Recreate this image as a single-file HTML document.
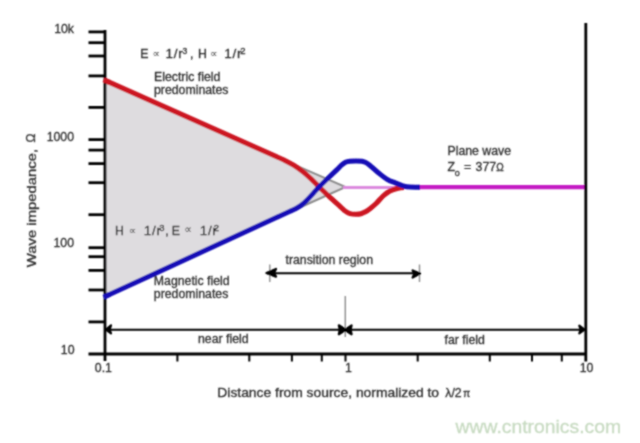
<!DOCTYPE html>
<html><head><meta charset="utf-8">
<style>
html,body{margin:0;padding:0;background:#fff;}
body{width:640px;height:443px;overflow:hidden;}
svg{display:block;}
text{font-family:"Liberation Sans",Arial,sans-serif;font-size:12.3px;fill:#2e2e2e;stroke:#2e2e2e;stroke-width:0.3px;}
.sym{font-family:"DejaVu Sans",sans-serif;font-size:7px;fill:#444;stroke:none;}
</style></head><body>
<svg width="640" height="443" viewBox="0 0 640 443">
<defs><filter id="soft" x="-1%" y="-1%" width="102%" height="102%"><feConvolveMatrix order="3" kernelMatrix="1 2 1 2 6 2 1 2 1" divisor="18" edgeMode="duplicate" preserveAlpha="false"/></filter></defs>
<rect width="640" height="443" fill="#fff"/>
<g filter="url(#soft)">
<!-- grey fill triangle -->
<polygon points="105,80.4 345.5,187 105,296.6" fill="#dedcdf"/>
<!-- grey asymptote extensions -->
<polyline points="290,162.9 345.5,187 292,211" fill="none" stroke="#8a8a8a" stroke-width="2" stroke-miterlimit="10"/>
<!-- pink thin line -->
<line x1="343" y1="187.5" x2="420" y2="187.5" stroke="#dc8ade" stroke-width="2.8"/>
<!-- magenta thick -->
<line x1="419" y1="187.2" x2="585" y2="187.2" stroke="#c41ac4" stroke-width="4.2"/>
<!-- red curve -->
<path d="M105,80.4 L284,160.0 C287.3,161.7 290.8,163.4 294.0,165.4 C297.2,167.4 300.3,169.7 303.0,171.8 C305.7,173.9 308.0,176.0 310.3,178.1 C312.6,180.2 314.7,182.6 316.6,184.4 C318.5,186.2 319.2,187.0 321.5,189.2 C323.8,191.4 327.1,194.8 330.3,197.7 C333.5,200.6 338.0,204.5 340.5,206.8 C343.0,209.1 343.9,210.2 345.5,211.3 C347.1,212.4 348.2,213.1 350.0,213.6 C351.8,214.1 354.2,214.2 356.0,214.2 C357.8,214.2 359.4,214.1 361.0,213.7 C362.6,213.3 364.0,212.6 365.5,211.8 C367.0,211.0 368.2,210.1 370.0,208.7 C371.8,207.3 373.9,205.6 376.1,203.5 C378.3,201.4 380.8,198.1 383.1,196.0 C385.4,193.9 387.4,192.3 389.9,191.0 C392.4,189.7 395.6,188.8 398.0,188.2 C400.4,187.6 402.0,187.5 404.0,187.4" fill="none" stroke="#cc1420" stroke-width="5" stroke-linejoin="round"/>
<!-- blue curve -->
<path d="M105,296.6 L290,211.3 C292.7,210.1 294.1,209.5 296.0,208.5 C297.9,207.5 299.3,206.8 301.2,205.3 C303.1,203.8 305.5,201.5 307.6,199.4 C309.7,197.3 311.8,194.9 313.9,192.6 C316.0,190.3 317.5,188.6 320.2,185.8 C322.9,183.0 327.5,178.7 330.3,176.0 C333.1,173.3 335.1,171.4 337.0,169.6 C338.9,167.8 340.1,166.4 341.5,165.2 C342.9,164.0 344.1,163.0 345.5,162.3 C346.9,161.7 348.2,161.5 350.0,161.3 C351.8,161.1 354.0,161.1 356.0,161.1 C358.0,161.1 360.3,161.1 362.0,161.3 C363.7,161.6 364.7,161.9 366.0,162.6 C367.3,163.3 368.1,163.9 370.0,165.5 C371.9,167.1 374.8,169.9 377.7,172.2 C380.6,174.5 384.3,177.6 387.2,179.4 C390.1,181.2 392.7,181.8 395.3,182.9 C397.9,184.0 400.6,185.1 403.0,185.8 C405.4,186.5 407.2,186.9 410.0,187.1 C412.8,187.3 416.7,187.2 420.0,187.2" fill="none" stroke="#1511b6" stroke-width="5" stroke-linejoin="round"/>
<!-- axes -->
<g stroke="#000" fill="none">
<line x1="105" y1="30" x2="105" y2="361" stroke-width="2.8"/>
<line x1="585.8" y1="23" x2="585.8" y2="361.5" stroke-width="2.8"/>
<line x1="88.5" y1="354" x2="587" y2="354" stroke-width="3"/>
<g stroke-width="2.8">
<line x1="88.5" y1="31.9" x2="106" y2="31.9"/>
<line x1="88.5" y1="42.7" x2="105" y2="42.7"/>
<line x1="88.5" y1="56.0" x2="105" y2="56.0"/>
<line x1="88.5" y1="75.9" x2="105" y2="75.9"/>
<line x1="88.5" y1="107.4" x2="105" y2="107.4"/>
<line x1="88.5" y1="139.6" x2="105" y2="139.6"/>
<line x1="88.5" y1="150.1" x2="105" y2="150.1"/>
<line x1="88.5" y1="163.6" x2="105" y2="163.6"/>
<line x1="88.5" y1="182.7" x2="105" y2="182.7"/>
<line x1="88.5" y1="214.7" x2="105" y2="214.7"/>
<line x1="88.5" y1="247.7" x2="105" y2="247.7"/>
<line x1="88.5" y1="256.7" x2="105" y2="256.7"/>
<line x1="88.5" y1="270.4" x2="105" y2="270.4"/>
<line x1="88.5" y1="290.0" x2="105" y2="290.0"/>
<line x1="88.5" y1="321.9" x2="105" y2="321.9"/>
</g>
<g stroke-width="2">
<line x1="177.4" y1="354" x2="177.4" y2="361.5"/>
<line x1="249.3" y1="354" x2="249.3" y2="361.5"/>
<line x1="291.9" y1="354" x2="291.9" y2="361.5"/>
<line x1="321.8" y1="354" x2="321.8" y2="361.5"/>
<line x1="345.5" y1="354" x2="345.5" y2="361.5"/>
<line x1="417.7" y1="354" x2="417.7" y2="361.5"/>
<line x1="489.8" y1="354" x2="489.8" y2="361.5"/>
<line x1="532" y1="354" x2="532" y2="361.5"/>
<line x1="561.8" y1="354" x2="561.8" y2="361.5"/>
</g>
</g>

<!-- line caps over axis -->
<path d="M103.6,79.8 L110,82.6" stroke="#cc1420" stroke-width="5" fill="none"/>
<path d="M103.6,297.2 L110,294.3" stroke="#1511b6" stroke-width="5" fill="none"/>
<!-- grey marker lines -->
<g stroke="#8c8c8c" stroke-width="1.4">
<line x1="345.3" y1="296" x2="345.3" y2="337"/>
<line x1="269.8" y1="264.5" x2="269.8" y2="282"/>
<line x1="419.5" y1="264.5" x2="419.5" y2="282"/>
</g>
<!-- arrows -->
<g stroke="#000" stroke-width="2" fill="none">
<line x1="106" y1="329.8" x2="584" y2="329.8"/>
<line x1="267" y1="273.2" x2="419" y2="273.2"/>
</g>
<g fill="#000" stroke="#000" stroke-width="2.2" stroke-linejoin="round" stroke-linecap="round">
<path d="M106,329.6 L111,325.3 L109.6,329.6 L111,333.4 Z"/>
<path d="M345.8,329.8 L338.8,325.3 L339.8,329.8 L338.8,334.3 Z"/>
<path d="M344.8,329.8 L351.6,325.3 L350.6,329.8 L351.6,334.3 Z"/>
<path d="M584.5,329.6 L579.3,325.6 L580.7,329.6 L579.3,333.4 Z"/>
<path d="M266.5,273 L276,269 L274,273 L276,276.6 Z"/>
<path d="M420,273.6 L412.6,270.4 L414.3,273.6 L412.6,277.6 Z"/>
</g>

<!-- y tick labels -->
<g text-anchor="end">
<text x="74" y="32.8">10k</text>
<text x="74" y="140.5">1000</text>
<text x="74" y="247.2">100</text>
<text x="74.5" y="353.7">10</text>
</g>
<g text-anchor="middle">
<text x="103.4" y="371.7">0.1</text>
<text x="348.3" y="371.7">1</text>
<text x="586.5" y="371.7">10</text>
</g>
<!-- y axis title -->
<text transform="translate(35.9,267.2) rotate(-90) scale(1.24,1)" x="0" y="0" style="font-size:12px">Wave impedance,</text>
<text transform="translate(35.4,142.5) rotate(-90)" x="0" y="0" style="font-size:12px">Ω</text>
<!-- labels -->
<g style="font-size:13px">
<text x="140.2" y="57.8">E</text>
<text x="165.6" y="57.8" style="font-size:13.5px;letter-spacing:0.7px">1/r</text>
<text x="190" y="57.8">,</text>
<text x="198" y="57.8">H</text>
<text x="224.3" y="57.8" style="font-size:13.5px;letter-spacing:0.7px">1/r</text>
</g>
<text class="sym" x="152.6" y="56.6" style="font-size:10.5px">∝</text>
<text class="sym" x="210" y="56.6" style="font-size:10.5px">∝</text>
<text x="182.4" y="53.6" style="font-size:8.5px">3</text>
<text x="240.2" y="53.8" style="font-size:9.5px">2</text>

<text x="154" y="80.7">Electric field</text>
<text x="154" y="94">predominates</text>

<g style="font-size:13px">
<text x="115.1" y="234.5">H</text>
<text x="165.2" y="234.5">,</text>
<text x="171.7" y="234.5">E</text>
</g>
<text x="143.8" y="234.5" style="font-size:13.5px;letter-spacing:0.7px">1/r</text>
<text x="199.7" y="234.5" style="font-size:13.5px;letter-spacing:0.7px">1/r</text>
<text class="sym" x="128.7" y="233.6" style="font-size:10.5px">∝</text>
<text class="sym" x="184.3" y="233.4" style="font-size:11px">∝</text>
<text x="159.2" y="231.2" style="font-size:9.5px">3</text>
<text x="213.7" y="231.2" style="font-size:9.5px">2</text>

<text x="153.8" y="285.1">Magnetic field</text>
<text x="153.8" y="298.3">predominates</text>

<text x="447.5" y="155">Plane wave</text>
<text x="447.5" y="171.3">Z</text>
<text x="454.7" y="176.4" style="font-size:9px">o</text>
<text x="464" y="171.3">=</text>
<text x="475.6" y="171.3">377</text>
<text x="496.3" y="171.3" style="font-size:10px">Ω</text>

<text x="285.5" y="264">transition region</text>
<text x="198" y="343.2">near field</text>
<text x="444.6" y="343.5">far field</text>

<text transform="translate(217.3,396.8) scale(1.156,1)" x="0" y="0" style="font-size:12px">Distance from source, normalized to</text>
<text x="445.3" y="396.8">λ/2</text>
<text x="462.9" y="396.8" style="font-size:10.5px">π</text>

<text transform="translate(455.6,433) scale(1.075,1)" style="font-size:18px;fill:#c8dbc2;stroke:#c8dbc2;stroke-width:0.3px">www.cntronics.com</text>
</g>
</svg>
</body></html>
